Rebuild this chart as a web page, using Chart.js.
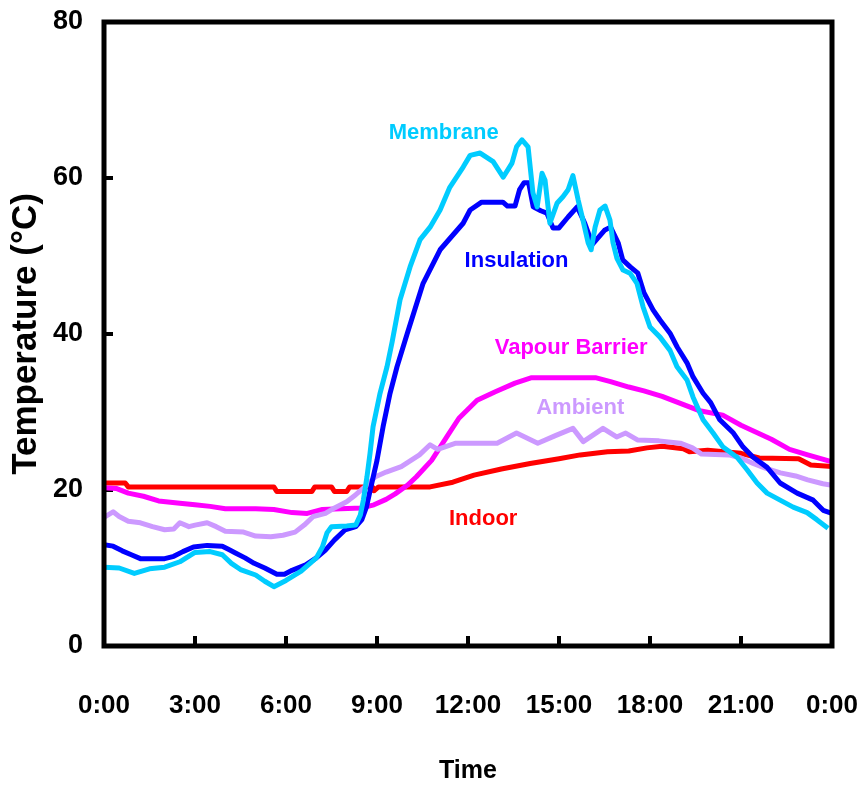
<!DOCTYPE html>
<html>
<head>
<meta charset="utf-8">
<script src="https://cdn.jsdelivr.net/npm/chart.js@4.4.1/dist/chart.umd.min.js"></script>
<style>
  html,body{margin:0;padding:0;background:#fff;}
  #wrap{width:861px;height:786px;}
</style>
</head>
<body>
<div id="wrap"><canvas id="c" width="861" height="786"></canvas></div>
<script>
// ===== data (hours of day, deg C) =====
const membraneHours = [0,0.5,1,1.5,2,2.5,3,3.5,3.9,4.2,4.5,5,5.3,5.6,6,6.5,7,7.2,7.35,7.5,8,8.3,8.45,8.55,8.67,8.77,8.87,9.1,9.33,9.5,9.76,10.09,10.42,10.75,11.08,11.4,11.84,12.07,12.4,12.83,13.16,13.45,13.6,13.78,13.98,14.14,14.28,14.44,14.54,14.7,14.94,15.13,15.3,15.46,15.63,15.79,15.96,16.06,16.19,16.35,16.52,16.68,16.78,16.91,17.11,17.34,17.57,17.77,18,18.33,18.66,18.89,19.22,19.42,19.75,20.08,20.41,20.87,21.2,21.53,21.86,22.29,22.72,23.18,23.5,23.87];
const membraneTemps = [10.1,10.0,9.3,9.9,10.1,10.8,12.0,12.1,11.7,10.6,9.8,9.1,8.3,7.6,8.4,9.6,11.3,12.7,14.5,15.3,15.4,15.5,16.8,18.7,21.7,24.7,28.1,32.4,35.8,39.0,44.4,48.6,52.1,53.7,55.9,58.8,61.4,62.9,63.2,62.1,60.1,61.9,64.0,64.9,64.0,58.1,56.3,60.6,59.7,54.2,56.8,57.6,58.5,60.3,57.2,54.6,51.7,50.8,53.7,55.9,56.4,54.6,51.7,49.7,48.2,47.8,46.5,43.5,40.9,39.6,37.9,35.8,34.1,31.9,29.0,27.3,25.5,24.2,22.6,20.9,19.6,18.7,17.8,17.1,16.2,15.1];

const insulationHours = [0,0.3,0.6,0.9,1.2,2,2.3,2.6,2.95,3.4,3.9,4.1,4.35,4.65,4.95,5.3,5.7,5.95,6.2,6.65,7,7.3,7.6,7.95,8.3,8.5,8.65,8.8,9,9.2,9.43,9.66,10,10.52,11.08,11.84,12.07,12.45,13.15,13.3,13.55,13.7,13.85,14,14.15,14.4,14.6,14.8,15,15.3,15.6,15.85,16.1,16.5,16.7,16.95,17.1,17.35,17.6,17.8,18.1,18.33,18.66,18.9,19.22,19.42,19.75,20,20.3,20.75,21.07,21.4,21.86,22.29,22.85,23.38,23.71,24];
const insulationTemps = [13.0,12.8,12.2,11.7,11.2,11.2,11.5,12.1,12.7,12.9,12.8,12.4,11.9,11.3,10.6,10.0,9.2,9.2,9.7,10.4,11.3,12.3,13.6,14.9,15.3,16.2,17.8,20.4,23.8,28.1,32.4,35.8,40.1,46.5,50.8,54.2,55.9,56.9,56.9,56.4,56.4,58.5,59.4,59.4,56.3,55.8,55.5,53.6,53.6,55.0,56.3,54.2,51.5,53.3,53.7,51.7,49.5,48.6,47.8,45.3,43.1,41.8,40.1,38.3,36.3,34.5,32.4,31.2,29.0,27.3,25.5,24.2,22.9,20.9,19.6,18.7,17.4,17.0];

const vapourHours = [0,0.4,0.8,1.3,1.8,2.5,3,3.5,4,5,5.6,6.2,6.7,7.2,7.8,8.5,8.9,9.3,9.6,10,10.3,10.8,11.3,11.7,12.3,12.9,13.55,14.1,16.2,16.7,17.3,17.8,18.4,19,19.6,20.4,21,21.5,22,22.6,23.2,24];
const vapourTemps = [20.3,20.2,19.6,19.2,18.6,18.3,18.1,17.9,17.6,17.6,17.5,17.1,17.0,17.5,17.6,17.7,18.1,18.8,19.5,20.6,21.7,23.8,26.8,29.2,31.5,32.6,33.7,34.4,34.4,33.9,33.2,32.7,32.0,31.1,30.2,29.6,28.3,27.4,26.5,25.2,24.5,23.6];

const ambientHours = [0,0.3,0.5,0.8,1.2,1.6,2,2.3,2.5,2.8,3,3.4,3.7,4,4.6,5,5.5,5.9,6.3,6.6,6.9,7.3,7.6,8,8.3,8.6,8.95,9.3,9.8,10.4,10.75,11,11.6,12.96,13.6,14.3,14.9,15.46,15.8,16.45,16.9,17.2,17.6,18.3,19,19.4,19.7,20.6,21,21.4,21.8,22.3,22.8,23.2,23.7,24];
const ambientTemps = [16.5,17.2,16.6,16.0,15.8,15.3,14.9,15.0,15.8,15.3,15.5,15.8,15.3,14.7,14.6,14.1,14.0,14.2,14.6,15.5,16.6,17.0,17.7,18.5,19.4,20.4,21.7,22.3,23.0,24.5,25.8,25.2,26.0,26.0,27.3,26.0,27.0,27.9,26.2,27.9,26.8,27.3,26.4,26.3,26.0,25.4,24.6,24.5,24.1,23.4,22.8,22.2,21.8,21.3,20.8,20.6];

const indoorHours = [0,0.7,0.8,5.6,5.7,6.85,6.95,7.5,7.6,8,8.1,8.85,8.9,9.05,10.75,11.5,12.2,13.1,14.05,15,15.7,16.6,17.3,17.9,18.4,19.1,19.3,19.9,21,21.6,22.9,23.3,24];
const indoorTemps = [20.9,20.9,20.4,20.4,19.8,19.8,20.4,20.4,19.8,19.8,20.4,20.4,19.9,20.4,20.4,21.0,21.9,22.7,23.4,24.0,24.5,24.9,25.0,25.4,25.6,25.3,24.9,25.1,24.7,24.1,24.0,23.2,23.0];

const xTicks = [0,3,6,9,12,15,18,21,24];
const yTicks = [0,20,40,60,80];

// ===== helpers =====
function pts(hours, temps){ return hours.map((h,i) => ({x:h, y:temps[i]})); }
const SANS = "'Liberation Sans','Arial',sans-serif";

// in-chart series names, anchored in data coordinates
const seriesLabels = [
  {text:'Membrane',       color:'#00CCFF', x:11.2, y:65.8},
  {text:'Insulation',     color:'#0000FF', x:13.6, y:49.4},
  {text:'Vapour Barrier', color:'#FF00FF', x:15.4, y:38.2},
  {text:'Ambient',        color:'#CC99FF', x:15.7, y:30.5},
  {text:'Indoor',         color:'#FF0000', x:12.5, y:16.3}
];

const labelPlugin = {
  id:'seriesLabels',
  afterDatasetsDraw(chart){
    const {ctx, scales:{x, y}} = chart;
    ctx.save();
    ctx.font = "bold 22px " + SANS;
    ctx.textAlign = 'center';
    ctx.textBaseline = 'middle';
    seriesLabels.forEach(l => {
      ctx.fillStyle = l.color;
      ctx.fillText(l.text, x.getPixelForValue(l.x), y.getPixelForValue(l.y));
    });
    ctx.restore();
  }
};

const framePlugin = {
  id:'frame',
  afterDraw(chart){
    const a = chart.chartArea, ctx = chart.ctx;
    ctx.save();
    ctx.strokeStyle = '#000';
    ctx.lineWidth = 5;
    ctx.strokeRect(a.left, a.top, a.right - a.left, a.bottom - a.top);
    ctx.restore();
  }
};

function noPad(s){ s.paddingLeft = 0; s.paddingRight = 0; s.paddingTop = 0; s.paddingBottom = 0; }

function line(label, data, color){
  return { label, data, borderColor: color, backgroundColor: color, borderWidth: 5,
           pointRadius: 0, tension: 0, fill: false, borderJoinStyle: 'round' };
}

new Chart(document.getElementById('c'), {
  type: 'line',
  data: {
    datasets: [
      line('Membrane', pts(membraneHours, membraneTemps), '#00CCFF'),
      line('Insulation', pts(insulationHours, insulationTemps), '#0000FF'),
      line('Ambient', pts(ambientHours, ambientTemps), '#CC99FF'),
      line('Vapour Barrier', pts(vapourHours, vapourTemps), '#FF00FF'),
      line('Indoor', pts(indoorHours, indoorTemps), '#FF0000')
    ]
  },
  options: {
    responsive: false,
    animation: false,
    layout: { padding: { left: 0, right: 29, top: 22, bottom: 0 } },
    plugins: { legend: { display: false }, tooltip: { enabled: false } },
    scales: {
      x: {
        type: 'linear', min: 0, max: 24,
        afterFit(s){ s.height = 140; noPad(s); },
        afterBuildTicks(s){ s.ticks = xTicks.map(v => ({value:v})); },
        border: { display: false },
        grid: { drawOnChartArea: false, drawTicks: true, tickLength: -10, lineWidth: 4, color: '#000' },
        ticks: {
          color: '#000', padding: 54, maxRotation: 0, autoSkip: false,
          font: { family: SANS, size: 26, weight: 'bold' },
          callback: v => (v % 24) + ':00'
        },
        title: { display: true, text: 'Time', color: '#000', padding: {top:0, bottom:0},
                 font: { family: SANS, size: 25, weight: 'bold' } }
      },
      y: {
        min: 0, max: 80,
        afterFit(s){ s.width = 104; noPad(s); },
        afterBuildTicks(s){ s.ticks = yTicks.map(v => ({value:v})); },
        border: { display: false },
        grid: { drawOnChartArea: false, drawTicks: true, tickLength: -9, lineWidth: 4, color: '#000' },
        ticks: {
          color: '#000', padding: 30,
          font: { family: SANS, size: 27, weight: 'bold' }
        },
        title: { display: true, text: 'Temperature (°C)', color: '#000', padding: {top:5, bottom:0},
                 font: { family: SANS, size: 35, weight: 'bold' } }
      }
    }
  },
  plugins: [labelPlugin, framePlugin]
});
</script>
</body>
</html>
